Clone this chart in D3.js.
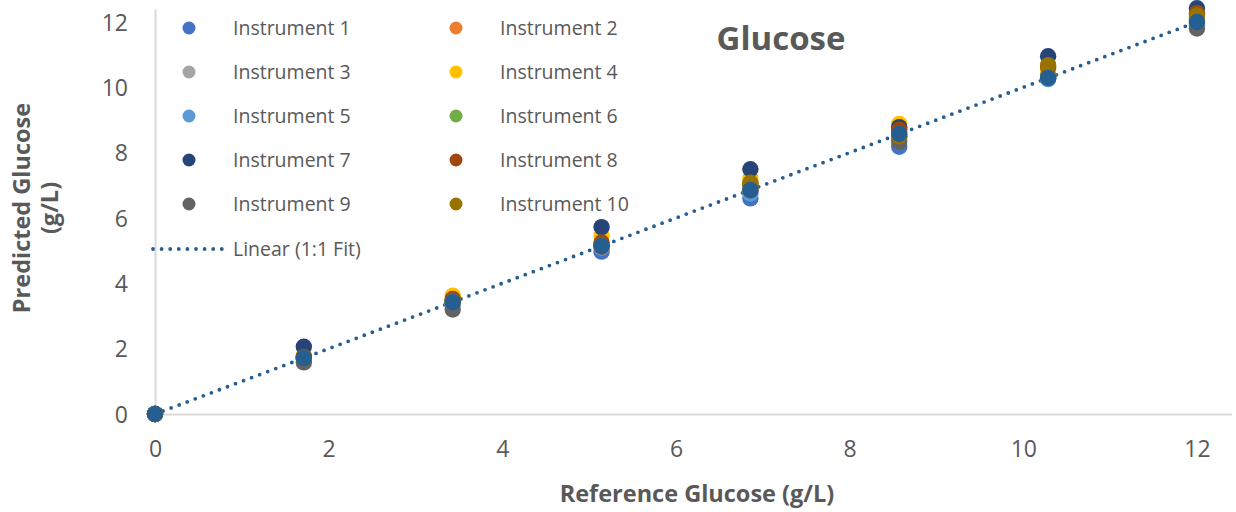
<!DOCTYPE html>
<html><head><meta charset="utf-8">
<script src="https://cdn.jsdelivr.net/npm/d3@7"></script>
<style>body{margin:0;background:#fff;} text{font-family:"Open Sans",sans-serif;}</style>
</head><body>
<svg id="c" width="1236" height="512"></svg>
<script>
const refX = [0, 1.714, 3.429, 5.143, 6.857, 8.571, 10.286, 12.0];
const seriesNames = ["Instrument 1","Instrument 2","Instrument 3","Instrument 4","Instrument 5","Instrument 6","Instrument 7","Instrument 8","Instrument 9","Instrument 10"];
const seriesColors = ["#4472C4","#ED7D31","#A5A5A5","#FFC000","#5B9BD5","#70AD47","#264478","#9E480E","#636363","#997300"];
const inst1  = [0, 1.68, 3.38, 4.97, 6.60, 8.18, 10.27, 11.90];
const inst2  = [0, 1.70, 3.45, 5.20, 6.90, 8.62, 10.40, 12.10];
const inst3  = [0, 1.66, 3.35, 5.10, 6.80, 8.50, 10.30, 11.95];
const inst4  = [0, 1.78, 3.62, 5.45, 7.22, 8.88, 10.55, 12.15];
const inst5  = [0, 1.72, 3.40, 5.12, 6.75, 8.45, 10.25, 11.98];
const inst6  = [0, 1.74, 3.44, 5.18, 7.05, 8.55, 10.35, 12.05];
const inst7  = [0, 2.06, 3.50, 5.72, 7.49, 8.78, 10.95, 12.42];
const inst8  = [0, 1.75, 3.52, 5.25, 7.00, 8.70, 10.62, 12.27];
const inst9  = [0, 1.58, 3.20, 5.12, 6.84, 8.33, 10.30, 11.80];
const inst10 = [0, 1.72, 3.45, 5.15, 7.08, 8.50, 10.68, 12.20];
const fitY   = [0, 1.714, 3.429, 5.143, 6.857, 8.571, 10.286, 12.0];
const fitColor = "#255E91";
const tickValues = [0, 2, 4, 6, 8, 10, 12];
const title = "Glucose";
const xTitle = "Reference Glucose (g/L)";
const yTitle = ["Predicted Glucose", "(g/L)"];
const fitLabel = "Linear (1:1 Fit)";

const allSeries = [inst1,inst2,inst3,inst4,inst5,inst6,inst7,inst8,inst9,inst10];
const svg = d3.select("#c");
const x = d3.scaleLinear().domain([0, 12.4]).range([155, 155 + 12.4*86.83]);
const y = d3.scaleLinear().domain([0, 12.4]).range([414, 414 - 12.4*32.67]);
const txt = "#595959", axisCol = "#D9D9D9";
const F = "Open Sans";

// axes
const gx = svg.append("g").attr("transform", `translate(0,${y(0)})`)
  .call(d3.axisBottom(x).tickValues(tickValues).tickSize(0).tickSizeOuter(0).tickPadding(27));
const gy = svg.append("g").attr("transform", `translate(${x(0)},0)`)
  .call(d3.axisLeft(y).tickValues(tickValues).tickSize(0).tickSizeOuter(0).tickPadding(27));
[gx, gy].forEach(g => {
  g.select(".domain").attr("stroke", axisCol).attr("stroke-width", 2);
  g.selectAll("text").attr("fill", txt).attr("font-size", 23).style("font-family", F);
});
gy.selectAll("text").attr("dy", "0.36em");

// fit line (dotted)
svg.append("line")
  .attr("x1", x(refX[0])).attr("y1", y(fitY[0]))
  .attr("x2", x(refX[refX.length-1])).attr("y2", y(fitY[fitY.length-1]))
  .attr("stroke", fitColor).attr("stroke-width", 3.8)
  .attr("stroke-linecap", "round").attr("stroke-dasharray", "0 8.6");

// points
const r = 8.2;
allSeries.forEach((s, i) => {
  svg.append("g").selectAll("circle").data(s).join("circle")
    .attr("cx", (d, j) => x(refX[j])).attr("cy", d => y(d)).attr("r", r)
    .attr("fill", seriesColors[i]);
});
svg.append("g").selectAll("circle").data(fitY).join("circle")
  .attr("cx", (d, j) => x(refX[j])).attr("cy", d => y(d)).attr("r", r)
  .attr("fill", fitColor);

// legend
const leg = svg.append("g");
seriesNames.forEach((n, i) => {
  const col = i % 2, row = Math.floor(i / 2);
  const mx = col === 0 ? 189 : 456, ty = 28 + row * 44;
  leg.append("circle").attr("cx", mx).attr("cy", ty).attr("r", 6.5).attr("fill", seriesColors[i]);
  leg.append("text").attr("x", mx + 44).attr("y", ty).attr("dy", "0.35em")
    .attr("fill", txt).attr("font-size", 19.5).text(n);
});
leg.append("line").attr("x1", 153).attr("x2", 222).attr("y1", 249).attr("y2", 249)
  .attr("stroke", fitColor).attr("stroke-width", 3.8).attr("stroke-linecap", "round").attr("stroke-dasharray", "0 8.6");
leg.append("text").attr("x", 233).attr("y", 249).attr("dy", "0.35em")
  .attr("fill", txt).attr("font-size", 19.5).text(fitLabel);

// titles
svg.append("text").attr("x", 781).attr("y", 38).attr("dy", "0.35em").attr("text-anchor", "middle")
  .attr("fill", txt).attr("font-size", 33).attr("font-weight", "bold").text(title);
svg.append("text").attr("x", 697).attr("y", 494).attr("dy", "0.35em").attr("text-anchor", "middle")
  .attr("fill", txt).attr("font-size", 23.5).attr("font-weight", "bold").text(xTitle);
const yt = svg.append("text").attr("transform", "translate(36,208) rotate(-90)")
  .attr("text-anchor", "middle").attr("fill", txt).attr("font-size", 23.5).attr("font-weight", "bold");
yt.append("tspan").attr("x", 0).attr("y", -14).attr("dy", "0.35em").text(yTitle[0]);
yt.append("tspan").attr("x", 0).attr("y", 14).attr("dy", "0.35em").text(yTitle[1]);
</script>
</body></html>
